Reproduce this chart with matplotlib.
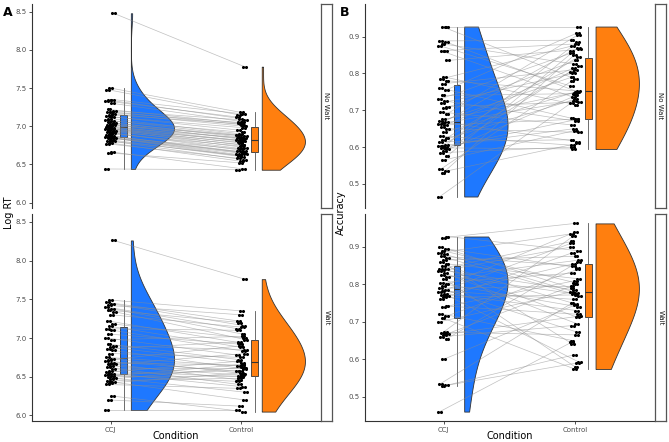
import numpy as np
import matplotlib
matplotlib.use("Agg")
import matplotlib.pyplot as plt

plt.rcParams['font.family'] = ['DejaVu Sans']

conditions = ["CCJ", "Control"]
facets = ["No Wait", "Wait"]

# Log RT, paired by participant (same index = same person)
rt_nowait_ccj = [6.44, 6.65, 6.66, 6.77, 6.78, 6.80, 6.81, 6.82, 6.84, 6.85,
                 6.85, 6.86, 6.86, 6.87, 6.88, 6.90, 6.91, 6.92, 6.93, 6.94,
                 6.95, 6.96, 6.97, 6.97, 6.98, 6.99, 7.00, 7.01, 7.02, 7.03,
                 7.04, 7.05, 7.07, 7.08, 7.10, 7.12, 7.13, 7.15, 7.16, 7.18,
                 7.19, 7.20, 7.22, 7.30, 7.33, 7.34, 7.35, 7.48, 7.50, 8.48]
rt_nowait_ctl = [6.43, 6.52, 6.44, 6.58, 6.54, 6.56, 6.62, 6.60, 6.64, 6.61,
                 6.66, 6.63, 6.70, 6.65, 6.67, 6.74, 6.68, 6.71, 6.76, 6.72,
                 6.79, 6.75, 6.82, 6.78, 6.80, 6.85, 6.81, 6.84, 6.88, 6.83,
                 6.87, 6.86, 6.92, 6.89, 6.90, 6.98, 6.95, 7.03, 7.00, 7.05,
                 7.02, 7.08, 7.04, 7.06, 7.12, 7.10, 7.16, 7.15, 7.18, 7.78]
rt_wait_ccj = [6.07, 6.20, 6.25, 6.40, 6.42, 6.43, 6.45, 6.47, 6.48, 6.50,
               6.51, 6.52, 6.53, 6.54, 6.56, 6.57, 6.60, 6.62, 6.64, 6.66,
               6.67, 6.68, 6.70, 6.72, 6.73, 6.75, 6.80, 6.84, 6.86, 6.88,
               6.90, 6.92, 6.98, 7.00, 7.05, 7.10, 7.12, 7.15, 7.18, 7.22,
               7.30, 7.34, 7.36, 7.38, 7.40, 7.42, 7.44, 7.46, 7.49, 8.26]
rt_wait_ctl = [6.07, 6.12, 6.05, 6.35, 6.55, 6.20, 6.48, 6.62, 6.30, 6.51,
               6.66, 6.44, 6.58, 6.37, 6.70, 6.50, 6.61, 6.40, 6.52, 6.80,
               6.46, 6.65, 6.57, 6.90, 6.54, 6.64, 6.75, 6.60, 6.95, 6.68,
               6.85, 6.72, 7.02, 6.78, 6.92, 6.83, 7.10, 6.88, 7.00, 6.94,
               7.14, 6.98, 7.20, 7.05, 7.12, 7.30, 7.16, 7.22, 7.35, 7.76]

# Accuracy, paired by participant
acc_nowait_ccj = [0.466, 0.530, 0.535, 0.540, 0.565, 0.575, 0.585, 0.590, 0.595, 0.598,
                  0.600, 0.602, 0.604, 0.606, 0.615, 0.620, 0.625, 0.630, 0.640, 0.650,
                  0.655, 0.660, 0.662, 0.665, 0.667, 0.670, 0.675, 0.690, 0.695, 0.705,
                  0.710, 0.720, 0.725, 0.730, 0.740, 0.755, 0.760, 0.772, 0.780, 0.785,
                  0.790, 0.835, 0.860, 0.862, 0.875, 0.880, 0.885, 0.888, 0.925, 0.927]
acc_nowait_ctl = [0.720, 0.850, 0.610, 0.780, 0.645, 0.870, 0.600, 0.740, 0.820, 0.595,
                  0.675, 0.805, 0.650, 0.885, 0.620, 0.730, 0.845, 0.605, 0.750, 0.640,
                  0.815, 0.676, 0.860, 0.725, 0.615, 0.790, 0.748, 0.905, 0.660, 0.835,
                  0.722, 0.800, 0.670, 0.855, 0.745, 0.910, 0.678, 0.810, 0.752, 0.875,
                  0.715, 0.865, 0.735, 0.880, 0.765, 0.825, 0.750, 0.890, 0.785, 0.927]
acc_wait_ccj = [0.460, 0.528, 0.530, 0.535, 0.600, 0.655, 0.660, 0.665, 0.668, 0.670,
                0.672, 0.700, 0.710, 0.715, 0.722, 0.740, 0.742, 0.760, 0.765, 0.770,
                0.772, 0.775, 0.780, 0.782, 0.785, 0.790, 0.795, 0.800, 0.805, 0.815,
                0.820, 0.825, 0.830, 0.835, 0.838, 0.840, 0.842, 0.850, 0.855, 0.860,
                0.865, 0.870, 0.875, 0.880, 0.885, 0.890, 0.895, 0.900, 0.925, 0.928]
acc_wait_ctl = [0.645, 0.612, 0.590, 0.750, 0.745, 0.860, 0.690, 0.800, 0.715, 0.930,
                0.665, 0.780, 0.574, 0.840, 0.650, 0.810, 0.720, 0.885, 0.772, 0.592,
                0.855, 0.730, 0.910, 0.760, 0.672, 0.795, 0.940, 0.740, 0.830, 0.578,
                0.865, 0.775, 0.695, 0.900, 0.785, 0.712, 0.915, 0.748, 0.815, 0.640,
                0.875, 0.770, 0.850, 0.778, 0.935, 0.805, 0.845, 0.790, 0.963, 0.890]

colors = ["#1E78FF", "#FF7F0F"]
dark = "#333333"
W, H = 669, 442


def px_axes(fig, x0, y0, x1, y1):
    # pixel box (top-left origin) -> figure axes
    return fig.add_axes([x0 / W, 1 - y1 / H, (x1 - x0) / W, (y1 - y0) / H])


def kde(vals, adjust=2.0):
    v = np.array(vals)
    sd = v.std(ddof=1)
    q75, q25 = np.percentile(v, [75, 25])
    bw = adjust * 0.9 * min(sd, (q75 - q25) / 1.34) * len(v) ** -0.2
    ys = np.linspace(v.min(), v.max(), 256)
    d = np.exp(-0.5 * ((ys[:, None] - v[None, :]) / bw) ** 2).sum(1)
    return ys, d / d.max()


def draw_facet(ax, ccj, ctl, ylim, yticks, bottom):
    n = len(ccj)
    jit = (((np.arange(n) * 37) % 11) - 5) / 5 * 0.03
    xs1 = 1 + jit
    xs2 = 2 + jit
    for i in range(n):
        ax.plot([xs1[i], xs2[i]], [ccj[i], ctl[i]], color="#8c8c8c", lw=0.5, alpha=0.55, zorder=4)
    for k, vals in enumerate([ccj, ctl]):
        pos = k + 1
        ys, d = kde(vals)
        ax.fill_betweenx(ys, pos + 0.155, pos + 0.155 + 0.33 * d, facecolor=colors[k],
                         edgecolor=dark, lw=0.6, zorder=2)
        ax.boxplot([vals], positions=[pos + 0.1], widths=0.05, patch_artist=True,
                   showfliers=False, showcaps=False,
                   boxprops=dict(facecolor=colors[k], edgecolor=dark, lw=0.6),
                   medianprops=dict(color=dark, lw=0.8),
                   whiskerprops=dict(color="#555555", lw=0.6), zorder=3)
        xs = xs1 if k == 0 else xs2
        ax.scatter(xs - 0.011, vals, s=5, color="black", zorder=5, lw=0)
        ax.scatter(xs + 0.011, vals, s=5, color="black", zorder=5, lw=0)
    ax.set_xlim(0.4, 2.6)
    ax.set_ylim(*ylim)
    ax.set_yticks(yticks)
    ax.set_yticklabels(["%.1f" % t for t in yticks])
    ax.set_xticks([1, 2])
    ax.spines["top"].set_visible(False)
    ax.spines["right"].set_visible(False)
    ax.spines["left"].set_color(dark)
    ax.spines["bottom"].set_color(dark)
    ax.tick_params(axis="both", labelsize=5, labelcolor="#4d4d4d", color=dark,
                   length=2.5, width=0.6, pad=1.5)
    if bottom:
        ax.set_xticklabels(conditions)
    else:
        ax.spines["bottom"].set_visible(False)
        ax.tick_params(axis="x", length=0, labelbottom=False)


def draw_strip(fig, x0, y0, x1, y1, label):
    s = px_axes(fig, x0, y0, x1, y1)
    s.set_xticks([])
    s.set_yticks([])
    for sp in s.spines.values():
        sp.set_color("#555555")
        sp.set_linewidth(0.9)
    s.text(0.5, 0.5, label, rotation=-90, ha="center", va="center",
           fontsize=5, color="#1a1a1a", transform=s.transAxes)


fig = plt.figure(figsize=(W / 100, H / 100), dpi=100)

rt_all = rt_nowait_ccj + rt_nowait_ctl + rt_wait_ccj + rt_wait_ctl
acc_all = acc_nowait_ccj + acc_nowait_ctl + acc_wait_ccj + acc_wait_ctl
rt_pad = (max(rt_all) - min(rt_all)) * 0.05
acc_pad = (max(acc_all) - min(acc_all)) * 0.05
rt_lim = (min(rt_all) - rt_pad, max(rt_all) + rt_pad)
acc_lim = (min(acc_all) - acc_pad, max(acc_all) + acc_pad)
rt_ticks = [6.0, 6.5, 7.0, 7.5, 8.0, 8.5]
acc_ticks = [0.5, 0.6, 0.7, 0.8, 0.9]

# panel A
axA1 = px_axes(fig, 32, 4, 320, 208)
draw_facet(axA1, rt_nowait_ccj, rt_nowait_ctl, rt_lim, rt_ticks, False)
axA2 = px_axes(fig, 32, 214, 320, 421)
draw_facet(axA2, rt_wait_ccj, rt_wait_ctl, rt_lim, rt_ticks, True)
draw_strip(fig, 321, 4, 332, 208, facets[0])
draw_strip(fig, 321, 214, 332, 421, facets[1])

# panel B
axB1 = px_axes(fig, 365, 4, 654, 208)
draw_facet(axB1, acc_nowait_ccj, acc_nowait_ctl, acc_lim, acc_ticks, False)
axB2 = px_axes(fig, 365, 214, 654, 421)
draw_facet(axB2, acc_wait_ccj, acc_wait_ctl, acc_lim, acc_ticks, True)
draw_strip(fig, 655, 4, 666, 208, facets[0])
draw_strip(fig, 655, 214, 666, 421, facets[1])

fig.text(3 / W, 1 - 13 / H, "A", fontsize=9, fontweight="bold", ha="left", va="center")
fig.text(340 / W, 1 - 13 / H, "B", fontsize=9, fontweight="bold", ha="left", va="center")
fig.text(9 / W, 1 - 213 / H, "Log RT", rotation=90, fontsize=7, ha="center", va="center")
fig.text(341 / W, 1 - 213 / H, "Accuracy", rotation=90, fontsize=7, ha="center", va="center")
fig.text(176 / W, 1 - 436 / H, "Condition", fontsize=7, ha="center", va="center")
fig.text(510 / W, 1 - 436 / H, "Condition", fontsize=7, ha="center", va="center")

fig.savefig("out.png", dpi=100)
